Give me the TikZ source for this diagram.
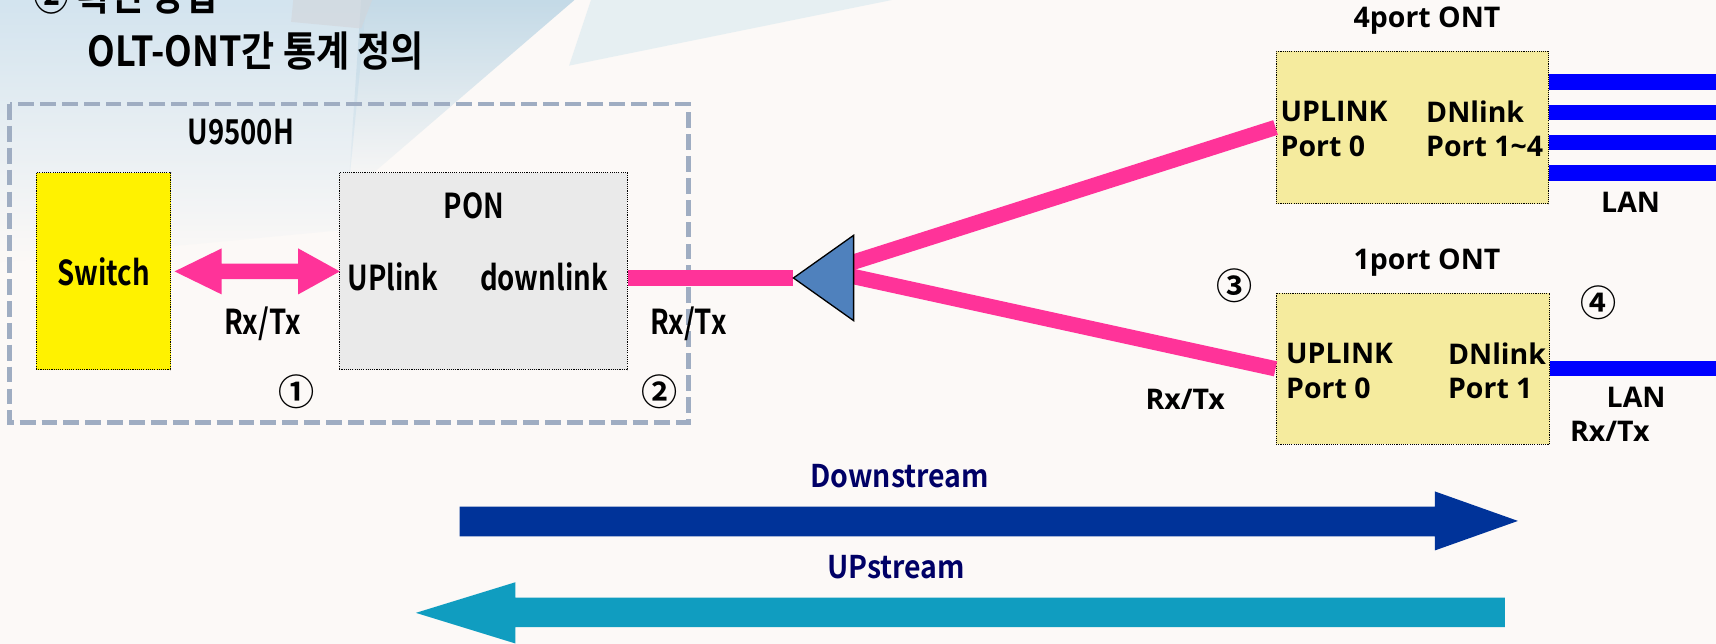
\documentclass[tikz,border=0pt]{standalone}
\usepackage{fontspec}
\newfontfamily\kr{Noto Sans CJK KR}[BoldFont={Noto Sans CJK KR Bold}]
\newfontfamily\ontf{Open Sans}
\usetikzlibrary{calc,fadings}
\newcommand{\mycond}[1]{\scalebox{0.9}[1.12]{#1}}
\newcommand{\mytitle}[1]{\scalebox{0.94}[1.08]{#1}}
\newcommand{\mystream}[1]{\scalebox{1}[1.1]{#1}}
\definecolor{bg}{HTML}{FCF9F7}
\definecolor{decoA}{HTML}{D3E4EF}
\definecolor{decoB}{HTML}{C4DAE7}
\definecolor{decoC}{HTML}{D2E7EE}
\definecolor{decoG}{HTML}{D2D5DA}
\definecolor{pinkc}{HTML}{FF3399}
\definecolor{lanblue}{HTML}{0000FF}
\definecolor{ponfill}{HTML}{EAEAEA}
\definecolor{ontfill}{HTML}{F5EB9E}
\definecolor{dashc}{HTML}{9FADC2}
\definecolor{triblue}{HTML}{4F81BD}
\definecolor{dsblue}{HTML}{003399}
\definecolor{usblue}{HTML}{109DC0}
\definecolor{navy}{HTML}{000066}
\begin{document}
\begin{tikzpicture}[x=1pt,y=-1pt,
  cond/.style={font=\kr\bfseries\fontsize{28}{30}\selectfont, inner sep=0pt},
  ontt/.style={font=\ontf\bfseries\fontsize{26}{28}\selectfont, inner sep=0pt},
  ontl/.style={ontt, anchor=west},
  num/.style={font=\kr\bfseries\fontsize{33}{35}\selectfont, inner sep=0pt},
  titlet/.style={font=\kr\bfseries\fontsize{35}{37}\selectfont, inner sep=0pt, anchor=base west},
  dotbox/.style={draw=black, densely dotted, line width=1pt},
  pinkline/.style={draw=pinkc, line width=14pt},
  lanline/.style={draw=lanblue, line width=14pt},
  streamt/.style={font=\kr\bfseries\fontsize{26}{28}\selectfont, inner sep=0pt, text=navy},
]
\useasboundingbox (0,0) rectangle (1568,588);
\clip (0,0) rectangle (1568,588);
\fill[bg] (0,0) rectangle (1568,588);
% background decoration
\fill[decoA, path fading=south] (0,0) -- (335,0) -- (315,210) -- (0,240) -- cycle;
\fill[decoB, path fading=south] (330,0) -- (525,0) -- (318,178) -- cycle;
\fill[decoC, opacity=0.5] (540,0) -- (815,0) -- (520,60) -- cycle;
\fill[decoG, opacity=0.6] (268,0) -- (340,0) -- (330,26) -- (266,20) -- cycle;

% title
\node[titlet] (t1) at (30,10) {\mytitle{② 확인 방법}};
\node[titlet] (t2) at (80,61) {\mytitle{OLT-ONT간 통계 정의}};

% OLT enclosure
\draw[dashc, line width=4.3pt, dash pattern=on 14.5pt off 5.5pt] (9,95) rectangle (629,386);
\node[cond] (u9500) at (220,121) {\mycond{U9500H}};

% Switch and PON
\node[dotbox, fill=yellow, minimum width=123pt, minimum height=180pt, cond] (sw) at (94.5,248) {\mycond{Switch}};
\node[dotbox, fill=ponfill, minimum width=263pt, minimum height=180pt] (pon) at (441.5,248) {};
\node[cond] (ponl) at (433,188) {\mycond{PON}};
\node[cond] (upl) at (359,253) {\mycond{UPlink}};
\node[cond] (dnl) at (497,253) {\mycond{downlink}};

% double arrow Switch <-> PON
\fill[pinkc] ($(sw.east)+(3,0)$) -- ++(43,-21) -- ++(0,14) -- ++(70,0) -- ++(0,-14)
  -- ++(38,21) -- ++(-38,21) -- ++(0,-14) -- ++(-70,0) -- ++(0,14) -- cycle;
\node[cond] (rx1) at (240,296) {\mycond{Rx/Tx}};
\node[num] (n1) at (271,358) {①};
\node[num] (n2) at (603,358) {②};
\node[cond] (rx2) at (629,296) {\mycond{Rx/Tx}};

% ONT boxes
\node[dotbox, fill=ontfill, minimum width=249pt, minimum height=139pt] (ont4) at (1290.5,116.5) {};
\node[dotbox, fill=ontfill, minimum width=250pt, minimum height=138pt] (ont1) at (1291,337) {};

% splitter and fibres
\coordinate (tritip) at (725,254);
\coordinate (triu) at (772,242);
\coordinate (tril) at (772,251);
\draw[pinkline] (pon.east |- tritip) -- (tritip);
\draw[pinkline] (triu) -- (ont4.west);
\draw[pinkline] (tril) -- (ont1.west);
\filldraw[fill=triblue, draw=black, line width=1.2pt] (tritip) -- (780,215) -- (780,293) -- cycle;

% LAN lines
\coordinate (la) at (1570,75);
\coordinate (lb) at (1570,102.5);
\coordinate (lc) at (1570,130.5);
\coordinate (ld) at (1570,158);
\coordinate (le) at (1570,337);
\draw[lanline] (ont4.east |- la) -- (la);
\draw[lanline] (ont4.east |- lb) -- (lb);
\draw[lanline] (ont4.east |- lc) -- (lc);
\draw[lanline] (ont4.east |- ld) -- (ld);
\draw[lanline] (ont1.east |- le) -- (le);

% ONT texts
\node[ontt] (o4t) at (1304,19) {4port ONT};
\node[ontl] (o4a) at (1170,102) {UPLINK};
\node[ontl] (o4b) at (1170,134) {Port 0};
\node[ontl] (o4c) at (1303,102) {DNlink};
\node[ontl] (o4d) at (1303,134) {Port 1\string~4};
\node[ontt] (lan4) at (1490,185) {LAN};

\node[ontt] (o1t) at (1304,240) {1port ONT};
\node[ontl] (o1a) at (1175,323) {UPLINK};
\node[ontl] (o1b) at (1175,355) {Port 0};
\node[ontl] (o1c) at (1323,323) {DNlink};
\node[ontl] (o1d) at (1323,355) {Port 1};
\node[ontt] (lan1) at (1495,363) {LAN};
\node[ontt] (rx4) at (1471,394) {Rx/Tx};
\node[ontt] (rx3) at (1083,365) {Rx/Tx};
\node[num] (n3) at (1128,261) {③};
\node[num] (n4) at (1461,277) {④};

% stream arrows
\node[streamt] (dst) at (822,435) {\mystream{Downstream}};
\fill[dsblue] (420,463) -- (1311,463) -- (1311,449) -- (1387,476) -- (1311,503) -- (1311,490) -- (420,490) -- cycle;
\node[streamt] (ust) at (819,518) {\mystream{UPstream}};
\fill[usblue] (1375,546) -- (471,546) -- (471,532) -- (380,560) -- (471,588) -- (471,573) -- (1375,573) -- cycle;
\end{tikzpicture}
\end{document}
